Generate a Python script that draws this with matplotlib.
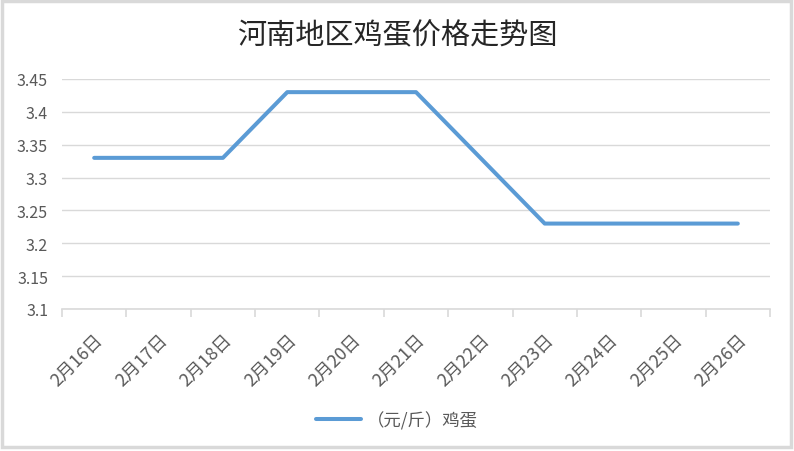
import numpy as np
import matplotlib.pyplot as plt
from matplotlib.patches import Rectangle

plt.rcParams['font.family'] = ['Noto Sans CJK SC', 'DejaVu Sans']

# data
dates = ['2月16日', '2月17日', '2月18日', '2月19日', '2月20日', '2月21日',
         '2月22日', '2月23日', '2月24日', '2月25日', '2月26日']
prices = [3.33, 3.33, 3.33, 3.43, 3.43, 3.43, 3.33, 3.23, 3.23, 3.23, 3.23]
yticks = [3.1, 3.15, 3.2, 3.25, 3.3, 3.35, 3.4, 3.45]
ytick_labels = ['3.1', '3.15', '3.2', '3.25', '3.3', '3.35', '3.4', '3.45']

grid_c = '#d9d9d9'
text_c = '#595959'
line_c = '#5b9bd5'

fig = plt.figure(figsize=(7.94, 4.52), dpi=100)
ax = fig.add_axes([62 / 794, 1 - 310 / 452, (770 - 62) / 794, (310 - 80) / 452])

x = np.arange(len(dates))
ax.plot(x, prices, color=line_c, linewidth=2.9, solid_capstyle='round',
        label='（元/斤）鸡蛋')

ax.set_xlim(-0.5, len(dates) - 0.5)
ax.set_ylim(3.1, 3.45)
ax.set_yticks(yticks)
ax.set_yticklabels(ytick_labels)
ax.yaxis.grid(True, color=grid_c, linewidth=1.0)
ax.set_axisbelow(True)

# category labels centered, tick marks on boundaries
ax.set_xticks(x)
ax.set_xticklabels(dates, rotation=45, ha='right', rotation_mode='anchor')
ax.set_xticks(np.arange(-0.5, len(dates)), minor=True)
ax.tick_params(axis='x', which='major', length=0, pad=15, labelsize=12.8, labelcolor=text_c)
ax.tick_params(axis='x', which='minor', length=6, color=grid_c, width=1.2)
ax.tick_params(axis='y', length=0, pad=10, labelsize=11.5, labelcolor=text_c)

for s in ['top', 'right', 'left']:
    ax.spines[s].set_visible(False)
ax.spines['bottom'].set_color(grid_c)
ax.spines['bottom'].set_linewidth(1.2)

fig.text(0.5, 1 - 36 / 452, '河南地区鸡蛋价格走势图', ha='center', va='center',
         fontsize=21, fontweight='medium', color='#262626')

leg = fig.legend(loc='center', bbox_to_anchor=(0.5, 1 - 421 / 452), frameon=False,
                 fontsize=12.5, handlelength=2.6, handletextpad=0.3, labelcolor=text_c)

# outer chart border
fig.patches.append(Rectangle((0.002, 0.008), 0.994, 0.988, transform=fig.transFigure,
                             fill=False, edgecolor=grid_c, linewidth=2.5))

fig.savefig('out.png', dpi=100)
